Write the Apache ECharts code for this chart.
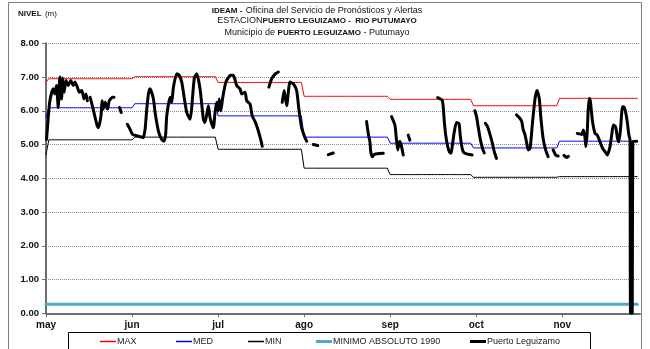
<!DOCTYPE html>
<html>
<head>
<meta charset="utf-8">
<script src="https://cdn.jsdelivr.net/npm/echarts@6/dist/echarts.min.js"></script>
<style>
  html, body { margin: 0; padding: 0; background: #ffffff; }
  #chart { width: 650px; height: 349px; }
</style>
</head>
<body>
<div id="chart"></div>
<script>
// Month labels on the time axis (one tick every 31 days from May 1)
const meses = ['may', 'jun', 'jul', 'ago', 'sep', 'oct', 'nov'];
// First day of each month, counted in days from May 1
const inicioMes = [0, 31, 61, 92, 123, 153, 184];
const diasPeriodo = 214;

// Monthly reference levels (m): April value first, then May .. November
const nivelMax = [6.85, 6.95, 7.01, 6.84, 6.43, 6.34, 6.15, 6.37];
const nivelMed = [5.80, 6.09, 6.21, 5.85, 5.22, 5.04, 4.90, 5.10];
const nivelMin = [4.70, 5.14, 5.22, 4.86, 4.30, 4.11, 4.03, 4.05];
const minimoAbsoluto1990 = 0.27;

// Observed levels at Puerto Leguizamo: day since May 1 and level (m); null marks a gap
const dias = [
  0.2, 0.8, 1.4, 2.6, 3.2, 3.8, 4.4, 5.0, 5.6, 6.0, 6.5, 7.2, 8.0, 8.9, 9.8, 10.4, 11.3, 12.0, 12.9, 13.7, 14.4, 14.9, 15.4,
  15.9, 17.0, 18.3, 18.9, 19.8, 20.2, 20.6, 21.3, 22.2, 22.8, 24.0, 24.5, 25.5,
  26.5, 27.1, 28.0,
  29.3, 30.3, 31.2, 33.2, 34.5, 35.0, 35.7, 36.3, 36.9, 37.5, 38.7, 39.3, 40.5, 41.7, 42.5, 43.1, 43.5, 44.7, 45.3, 45.9,
  47.1, 48.0, 48.9, 49.5, 50.7, 51.9, 52.5, 53.4, 54.3, 55.5, 56.7, 57.3, 58.5, 59.1, 60.3, 60.9, 61.5, 62.1, 62.4, 63.0,
  63.6, 64.8, 66.5, 67.5, 68.7, 69.9, 70.5, 71.7, 72.3, 73.5, 74.3, 75.5, 76.5, 77.5, 77.9, 79.0,
  80.3, 81.3, 82.7, 83.7, 84.4,
  85.1, 85.8, 86.7, 87.9, 89.1, 90.3, 91.1, 92.1, 93.3, 93.9, 95.0,
  96.3, 97.9, 100.0,
  101.7, 103.5, 110.0,
  115.5, 116.1, 116.7, 117.0, 117.6, 118.3, 121.5, 123.0,
  124.5, 125.7, 126.1, 126.7, 127.2, 127.5, 128.1, 128.7, 129.6,
  130.5, 131.1, 135.0,
  141.1, 142.8, 143.5, 144.0, 144.7, 145.3, 145.9, 146.5, 147.1, 147.9, 148.8, 149.2, 149.7, 150.3, 151.0, 153.5, 154.0,
  154.5, 155.1, 155.7, 156.5, 157.4, 157.9, 158.1,
  158.3, 159.1, 160.7, 161.5, 162.3, 165.0,
  169.5, 170.7, 171.4, 171.9, 172.6, 173.2, 173.7, 174.4, 175.3, 176.2, 176.9, 177.7, 178.3, 179.1, 180.0, 180.9, 181.8,
  182.7, 183.7, 184.5, 185.5,
  186.6, 187.5, 188.2, 190.0,
  191.4, 193.0, 193.6, 194.2, 194.5, 195.0, 195.3, 195.7, 196.1, 196.9, 197.8, 198.6, 199.6, 200.5, 201.4, 202.2,
  203.2, 203.8, 204.4, 205.2, 205.9, 206.4, 207.0, 207.7, 208.2, 208.8, 209.4, 210.0, 210.4, 210.6, 211.2, 211.4, 212.8
];
const nivel = [
  5.15, 5.80, 6.30, 6.65, 6.50, 6.75, 6.10, 7.00, 6.35, 6.97, 6.55, 6.90, 6.75, 6.90, 6.75, 6.85, 6.70, 6.55, 6.60, 6.35, 6.50, 6.30, null,
  6.40, 6.05, 5.60, 5.50, 5.85, 6.30, 6.05, 6.25, 6.05, 6.30, 6.40, 6.40, null,
  6.10, 5.95, null,
  5.60, 5.45, 5.30, 5.25, 5.22, 5.20, 5.45, 6.05, 6.50, 6.65, 6.35, 5.95, 5.40, 5.15, 5.10, 5.30, 5.85, 6.40, 6.25, 6.70,
  7.10, 7.05, 6.85, 6.55, 5.95, 5.75, 6.10, 6.95, 7.10, 6.65, 5.75, 5.65, 6.15, 5.80, 5.50, 5.95, 6.25, 6.00, 6.35, 6.00,
  6.35, 6.85, 7.05, 7.05, 6.75, 6.65, 6.50, 6.55, 6.30, 6.20, 5.85, 5.65, 5.40, 5.10, 4.95, null,
  6.70, 6.95, 7.10, 7.15, null,
  6.25, 6.60, 6.15, 6.85, 6.80, 6.60, 6.05, 5.50, 5.20, 5.10, null,
  5.00, 4.97, null,
  4.70, 4.75, null,
  5.68, 5.33, 5.08, 4.79, 4.64, 4.71, 4.74, null,
  5.83, 5.58, 5.28, 4.84, 5.04, 5.10, 4.94, 4.69, null,
  5.28, 5.13, null,
  6.39, 6.30, 5.68, 5.28, 4.95, 4.79, 4.74, 5.04, 5.38, 5.65, 5.62, 5.30, 4.99, 4.79, 4.74, 4.69, null,
  6.00, 5.83, 5.53, 5.14, 4.85, 4.75, null,
  5.63, 5.53, 5.08, 4.79, 4.59, null,
  5.88, 5.78, 5.68, 5.45, 5.28, 5.04, 4.84, 4.89, 5.68, 6.37, 6.60, 6.37, 5.78, 5.18, 4.84, 4.64, null,
  4.84, 4.68, 4.66, null,
  4.68, 4.62, 4.65, null,
  5.33, 5.30, 5.43, 5.20, 4.94, 5.38, 5.97, 6.37, 6.30, 5.68, 5.33, 5.28, 5.08, 4.89, 4.79, 4.69,
  4.94, 5.28, 5.58, 5.53, 5.18, 5.08, 5.48, 6.12, 6.12, 5.97, 5.68, 5.28, 5.15, 0.00, 0.00, 5.08, 5.10
];

// Daily series for a monthly reference level: previous month's value up to the
// first day of each month, the new value from the day after.
function serieMensual(valores) {
  const out = [];
  for (let d = 0; d < diasPeriodo; d++) {
    let idx = 0;
    for (let m = 0; m < inicioMes.length; m++) {
      if (d > inicioMes[m]) idx = m + 1;
    }
    out.push([d, valores[idx]]);
  }
  return out;
}

const serieNivel = dias.map((d, i) => [d, nivel[i]]);
const serieMinimo = [];
for (let d = 0; d < diasPeriodo; d++) serieMinimo.push([d, minimoAbsoluto1990]);

const fuente = '"Liberation Sans", Arial, sans-serif';

function lineSeries(name, data, color, width, smooth) {
  return {
    name: name, type: 'line', data: data, showSymbol: false, symbol: 'none',
    connectNulls: false, animation: false, smooth: smooth || false,
    lineStyle: { color: color, width: width, cap: 'round', join: 'round' },
    itemStyle: { color: color }
  };
}

function leyenda(name, left, color, height) {
  return {
    data: [{ name: name, itemStyle: { color: color, borderWidth: 0 } }],
    left: left, top: 337, orient: 'horizontal',
    icon: 'rect', itemWidth: 16, itemHeight: height, itemGap: 0,
    textStyle: { fontFamily: fuente, fontSize: 9, color: '#222', padding: [0, 0, 0, -4] },
    selectedMode: false, padding: 0
  };
}

const rico = function (size) {
  return {
    b: { fontFamily: fuente, fontSize: size - 1, fontWeight: 'bold', fill: '#111' },
    n: { fontFamily: fuente, fontSize: size, fill: '#111' }
  };
};

const chart = echarts.init(document.getElementById('chart'), null, { renderer: 'canvas' });
chart.setOption({
  animation: false,
  backgroundColor: '#ffffff',
  grid: { left: 46, right: 10, top: 43.3, bottom: 35.7, containLabel: false },
  xAxis: {
    type: 'value', min: 0, max: diasPeriodo, interval: 31,
    axisLine: { show: true, lineStyle: { color: '#6e6e6e', width: 2 } },
    axisTick: { show: true, length: 4, lineStyle: { color: '#6e6e6e' } },
    splitLine: { show: false },
    axisLabel: {
      fontFamily: fuente, fontSize: 10, fontWeight: 'bold', color: '#111', margin: 7,
      showMaxLabel: false,
      formatter: function (v) { const i = Math.round(v / 31); return (v % 31 === 0 && meses[i]) ? meses[i] : ''; }
    }
  },
  yAxis: {
    type: 'value', min: 0, max: 8, interval: 1,
    axisLine: { show: true, lineStyle: { color: '#6e6e6e', width: 2 } },
    axisTick: { show: true, length: 4, lineStyle: { color: '#6e6e6e' } },
    splitLine: { show: true, lineStyle: { color: '#8a8a8a', type: [1, 1], width: 1 } },
    axisLabel: {
      fontFamily: fuente, fontSize: 9.5, fontWeight: 'bold', color: '#111', margin: 7,
      formatter: function (v) { return v.toFixed(2); }
    }
  },
  legend: [
    leyenda('MAX', 100, '#ff0000', 1.5),
    leyenda('MED', 176, '#0000ff', 1.5),
    leyenda('MIN', 248, '#000000', 1.5),
    leyenda('MINIMO ABSOLUTO 1990', 316, '#4bacc6', 3),
    leyenda('Puerto Leguizamo', 470, '#000000', 3)
  ],
  graphic: [
    { type: 'rect', shape: { x: 8.5, y: 2.5, width: 633, height: 360 }, style: { fill: 'none', stroke: '#808080', lineWidth: 1 }, silent: true, z: -10 },
    { type: 'rect', shape: { x: 68.5, y: 332.5, width: 522, height: 30 }, style: { fill: 'none', stroke: '#000000', lineWidth: 1 }, silent: true },
    { type: 'text', x: 18, y: 8, style: { text: '{b|NIVEL} {n|(m)}', rich: { b: { fontFamily: fuente, fontSize: 8, fontWeight: 'bold', fill: '#111' }, n: { fontFamily: fuente, fontSize: 8, fill: '#111' } } } },
    { type: 'text', x: 317, y: 5, style: { text: '{b|IDEAM -} {n|Oficina del Servicio de Pronósticos y Alertas}', align: 'center', rich: rico(9) } },
    { type: 'text', x: 317, y: 16.5, style: { text: '{n|ESTACION}{b|PUERTO LEGUIZAMO -  RIO PUTUMAYO}', align: 'center', rich: rico(9) } },
    { type: 'text', x: 317, y: 28, style: { text: '{n|Municipio de }{b|PUERTO LEGUIZAMO}{n| - Putumayo}', align: 'center', rich: rico(9) } }
  ],
  series: [
    lineSeries('MAX', serieMensual(nivelMax), '#ff0000', 1),
    lineSeries('MED', serieMensual(nivelMed), '#0000ff', 1),
    lineSeries('MIN', serieMensual(nivelMin), '#000000', 1),
    lineSeries('MINIMO ABSOLUTO 1990', serieMinimo, '#4bacc6', 3),
    lineSeries('Puerto Leguizamo', serieNivel, '#000000', 3, 0.2)
  ]
});
</script>
</body>
</html>
